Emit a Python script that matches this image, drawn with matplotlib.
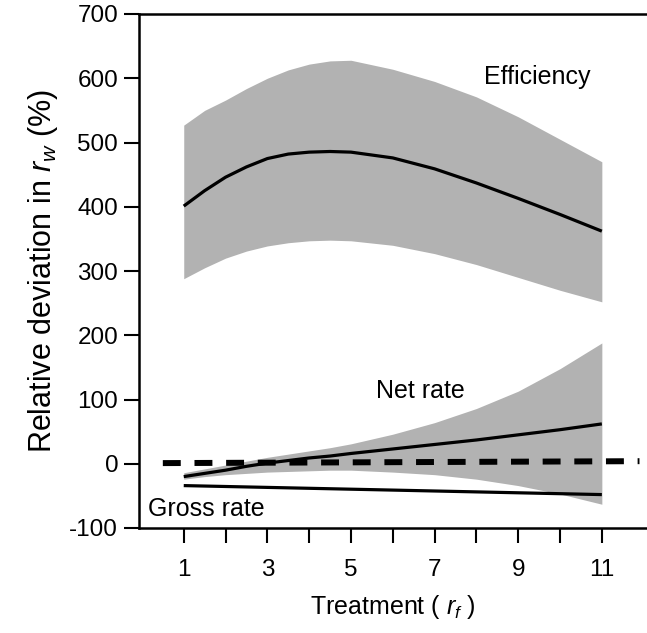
import matplotlib
matplotlib.use("Agg")
import matplotlib.pyplot as plt

plt.rcParams["font.family"] = ["Liberation Sans", "DejaVu Sans"]
plt.rcParams["mathtext.fontset"] = "custom"
plt.rcParams["mathtext.it"] = "Liberation Sans:italic"
plt.rcParams["mathtext.rm"] = "Liberation Sans"
plt.rcParams["axes.unicode_minus"] = False

treatment = [1, 1.5, 2, 2.5, 3, 3.5, 4, 4.5, 5, 6, 7, 8, 9, 10, 11]

eff_mean = [401, 425, 446, 462, 475, 482, 485, 486, 485, 476, 459, 437, 413, 388, 362]
eff_upper = [527, 550, 566, 584, 600, 613, 622, 627, 628, 614, 595, 571, 540, 505, 470]
eff_lower = [288, 305, 320, 331, 339, 344, 347, 348, 347, 340, 327, 310, 290, 270, 252]

net_mean = [-20, -15, -10, -4, 1, 5, 9, 12, 16, 23, 30, 37, 45, 53, 62]
net_upper = [-14, -8, -2, 4, 10, 15, 20, 25, 31, 46, 64, 86, 113, 148, 188]
net_lower = [-24, -20, -17, -15, -13, -12, -11, -10, -10, -13, -17, -24, -34, -47, -63]

gross_x = [1, 11]
gross_mean = [-34, -48]

ref_x = [0.5, 11.9]
ref_y = [1, 4]

BAND = "#b2b2b2"

fig = plt.figure(figsize=(6.47, 6.33), dpi=100)
ax = fig.add_axes([139 / 647, 105 / 633, 508 / 647, 514 / 633])

ax.fill_between(treatment, eff_lower, eff_upper, color=BAND, lw=0)
ax.fill_between(treatment, net_lower, net_upper, color=BAND, lw=0)
ax.plot(treatment, eff_mean, color="black", lw=2.3, solid_capstyle="butt")
ax.plot(treatment, net_mean, color="black", lw=2.3, solid_capstyle="butt")
ax.plot(gross_x, gross_mean, color="black", lw=2.3, solid_capstyle="butt")
ax.plot(ref_x, ref_y, color="black", lw=4.3, linestyle=(0, (3.0, 2.3)),
        dash_capstyle="butt")

ax.text(9.45, 602, "Efficiency", fontsize=18, ha="center", va="center")
ax.text(6.65, 113, "Net rate", fontsize=18, ha="center", va="center")
ax.text(0.15, -70, "Gross rate", fontsize=18, ha="left", va="center")

ax.set_xlim(-0.07, 12.08)
ax.set_ylim(-100, 700)
ax.set_xticks([1, 3, 5, 7, 9, 11])
ax.set_xticks(range(1, 12), minor=True)
ax.set_yticks(range(-100, 701, 100))
ax.tick_params(axis="both", which="both", direction="out", length=11,
               width=1.5, labelsize=17.5, pad=4)
ax.tick_params(axis="x", pad=11)
ax.spines["right"].set_visible(False)
for s in ("left", "bottom", "top"):
    ax.spines[s].set_linewidth(1.8)

ax.set_xlabel("Treatment ( $r_f$ )", fontsize=18, labelpad=9)
ax.set_ylabel("Relative deviation in $r_w$ (%)", fontsize=22, labelpad=7)

fig.savefig("out.png", dpi=100)
